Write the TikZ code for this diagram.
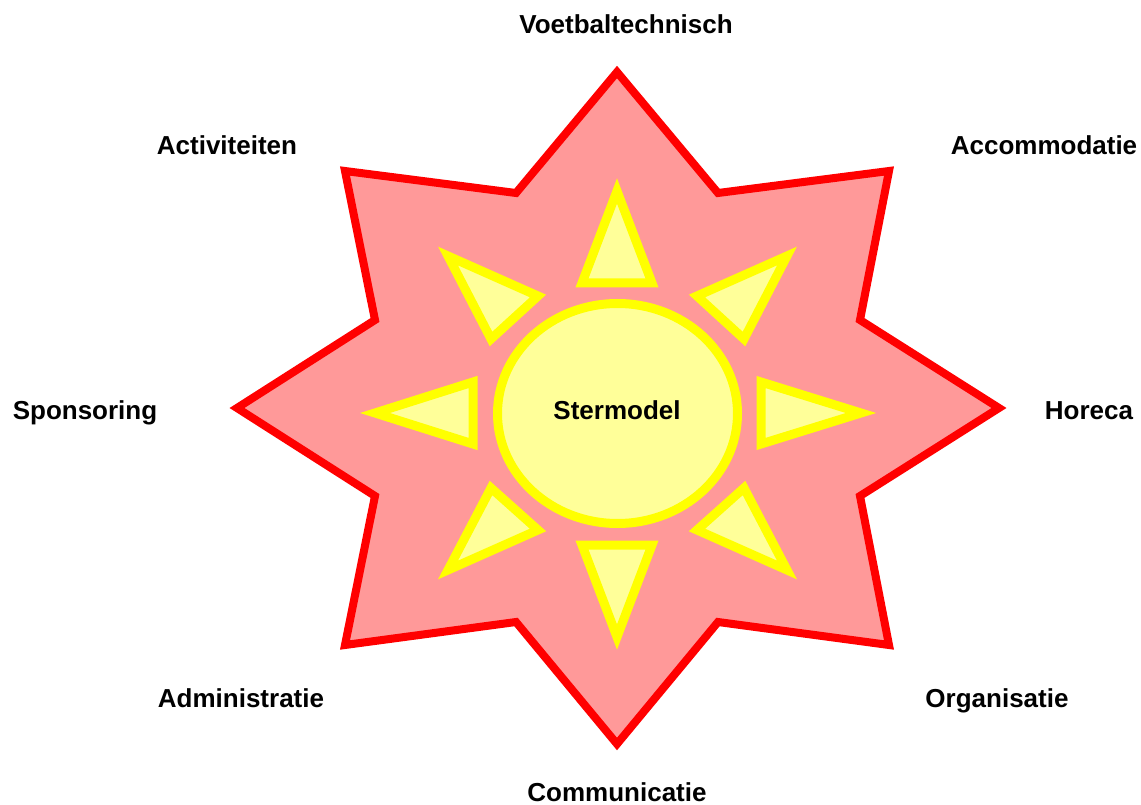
\documentclass[tikz,border=0pt]{standalone}
\usepackage{fontspec}
\setmainfont{Liberation Sans}
\definecolor{starfill}{HTML}{FF9999}
\definecolor{starline}{HTML}{FF0000}
\definecolor{sunfill}{HTML}{FFFF99}
\definecolor{sunline}{HTML}{FFFF00}
\tikzset{
  star/.style={fill=starfill, draw=starline, line width=8pt},
  ray/.style={fill=sunfill, draw=sunline, line width=9pt},
  lbl/.style={font=\fontsize{26}{30}\selectfont\bfseries, anchor=base, inner sep=0pt},
}
\begin{document}
\begin{tikzpicture}[x=1pt,y=-1pt]
\useasboundingbox (0,0) rectangle (1141,805);
% star
\draw[star] (617,72) -- (718,193) -- (889,171) -- (860,320) -- (999,408) -- (860,496) -- (889,645) -- (718,622) -- (617,744) -- (516,622) -- (345,645) -- (375,496) -- (237,408) -- (375,320) -- (345,171) -- (516,193) -- cycle;
% rays
\draw[ray] (617,191) -- (652,283) -- (582,283) -- cycle;
\draw[ray] (617,637) -- (652,545) -- (582,545) -- cycle;
\draw[ray] (375,413) -- (473,382) -- (473,444) -- cycle;
\draw[ray] (861,413) -- (761,382) -- (761,444) -- cycle;
\draw[ray] (448,256) -- (538,296) -- (491,339) -- cycle;
\draw[ray] (787,256) -- (697,296) -- (744,339) -- cycle;
\draw[ray] (448,570) -- (538,530) -- (491,488) -- cycle;
\draw[ray] (787,570) -- (697,530) -- (744,488) -- cycle;
% center
\draw[ray] (617.5,413.5) ellipse [x radius=120, y radius=110];
\node[lbl] (center) at (617,419) {Stermodel};
% labels
\node[lbl] (voet) at (626,34) {Voetbaltechnisch};
\node[lbl] (acco) at (1044,155) {Accommodatie};
\node[lbl] (acti) at (227,155) {Activiteiten};
\node[lbl] (spon) at (85,419) {Sponsoring};
\node[lbl] (hore) at (1089,419) {Horeca};
\node[lbl] (admi) at (241,707) {Administratie};
\node[lbl] (orga) at (997,707) {Organisatie};
\node[lbl] (comm) at (617,801) {Communicatie};
\end{tikzpicture}
\end{document}
